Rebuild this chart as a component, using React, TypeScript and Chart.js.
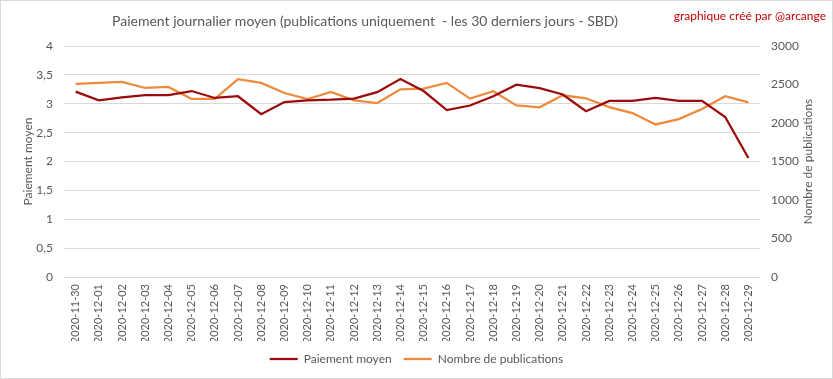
import React, { useEffect, useRef } from "react";
import { Chart, registerables } from "chart.js";

Chart.register(...registerables);

const dates = [
  "2020-11-30", "2020-12-01", "2020-12-02", "2020-12-03", "2020-12-04", "2020-12-05",
  "2020-12-06", "2020-12-07", "2020-12-08", "2020-12-09", "2020-12-10", "2020-12-11",
  "2020-12-12", "2020-12-13", "2020-12-14", "2020-12-15", "2020-12-16", "2020-12-17",
  "2020-12-18", "2020-12-19", "2020-12-20", "2020-12-21", "2020-12-22", "2020-12-23",
  "2020-12-24", "2020-12-25", "2020-12-26", "2020-12-27", "2020-12-28", "2020-12-29",
];

const paiementMoyen = [
  3.21, 3.06, 3.11, 3.15, 3.15, 3.22, 3.1, 3.13, 2.82, 3.03, 3.06, 3.07, 3.09, 3.2, 3.43,
  3.22, 2.89, 2.97, 3.13, 3.33, 3.27, 3.16, 2.87, 3.05, 3.05, 3.1, 3.05, 3.05, 2.77, 2.06,
];

const nombrePublications = [
  2507, 2521, 2534, 2455, 2468, 2312, 2312, 2569, 2521, 2390, 2312, 2403, 2295, 2259, 2438,
  2447, 2521, 2317, 2412, 2229, 2203, 2360, 2321, 2207, 2129, 1981, 2050, 2181, 2347, 2268,
];

const titleText = "Paiement journalier moyen (publications uniquement  - les 30 derniers jours - SBD)";
const creditText = "graphique créé par @arcange";
const leftAxisTitle = "Paiement moyen";
const rightAxisTitle = "Nombre de publications";
const seriesNames = ["Paiement moyen", "Nombre de publications"];

const FONT = "Lato, 'Open Sans', sans-serif";
const GREY = "#595959";

const decorPlugin = {
  id: "decor",
  beforeDraw(chart: any) {
    const { ctx, width, height } = chart;
    ctx.save();
    ctx.fillStyle = "#ffffff";
    ctx.fillRect(0, 0, width, height);
    ctx.strokeStyle = "#d9d9d9";
    ctx.lineWidth = 1;
    ctx.strokeRect(0.5, 0.5, width - 1, height - 1);
    ctx.restore();
  },
  afterDraw(chart: any) {
    const { ctx, width, chartArea } = chart;
    ctx.save();
    ctx.textBaseline = "middle";
    ctx.textAlign = "center";
    ctx.fillStyle = GREY;
    ctx.font = `14px ${FONT}`;
    ctx.fillText(titleText, 365, 21);

    ctx.fillStyle = "#c00000";
    ctx.font = `12px ${FONT}`;
    ctx.textAlign = "right";
    ctx.fillText(creditText, width - 7, 16);

    const cy = (chartArea.top + chartArea.bottom) / 2;
    ctx.fillStyle = GREY;
    ctx.font = `12px ${FONT}`;
    ctx.textAlign = "center";
    ctx.save();
    ctx.translate(28, cy);
    ctx.rotate(-Math.PI / 2);
    ctx.fillText(leftAxisTitle, 0, 0);
    ctx.restore();
    ctx.save();
    ctx.translate(width - 25, cy);
    ctx.rotate(-Math.PI / 2);
    ctx.fillText(rightAxisTitle, 0, 0);
    ctx.restore();
    ctx.restore();
  },
};

export default function App() {
  const ref = useRef<HTMLCanvasElement>(null);

  useEffect(() => {
    document.body.style.margin = "0";
    const canvas = ref.current;
    if (!canvas) return;
    const chart = new Chart(canvas, {
      type: "line",
      data: {
        labels: dates,
        datasets: [
          {
            label: seriesNames[0],
            data: paiementMoyen,
            yAxisID: "y",
            borderColor: "#9b0b0b",
            backgroundColor: "#9b0b0b",
            borderWidth: 2.25,
            pointRadius: 0,
            pointStyle: "line",
            tension: 0,
          },
          {
            label: seriesNames[1],
            data: nombrePublications,
            yAxisID: "y1",
            borderColor: "#ee8a3c",
            backgroundColor: "#ee8a3c",
            borderWidth: 2.25,
            pointRadius: 0,
            pointStyle: "line",
            tension: 0,
          },
        ],
      },
      options: {
        responsive: false,
        animation: false,
        layout: { padding: { top: 46, left: 0, right: 0, bottom: 4 } },
        plugins: {
          title: { display: false },
          tooltip: { enabled: false },
          legend: {
            position: "bottom",
            labels: {
              usePointStyle: true,
              pointStyleWidth: 28,
              color: GREY,
              font: { family: FONT, size: 12 },
              padding: 12,
            },
          },
        },
        scales: {
          x: {
            offset: true,
            grid: { display: false, drawTicks: false },
            border: { display: false },
            ticks: {
              color: GREY,
              font: { family: FONT, size: 11 },
              minRotation: 90,
              maxRotation: 90,
              autoSkip: false,
              padding: 7,
            },
            afterFit(scale: any) {
              scale.height = 64;
            },
          },
          y: {
            position: "left",
            min: 0,
            max: 4,
            grid: { color: "#d9d9d9", drawTicks: false },
            border: { display: false },
            ticks: {
              stepSize: 0.5,
              color: GREY,
              font: { family: FONT, size: 12 },
              padding: 11,
              callback: (v: any) => String(v).replace(".", ","),
            },
            afterFit(scale: any) {
              scale.width = 64;
            },
          },
          y1: {
            position: "right",
            min: 0,
            max: 3000,
            grid: { display: false, drawTicks: false },
            border: { display: false },
            ticks: {
              stepSize: 500,
              color: GREY,
              font: { family: FONT, size: 12 },
              padding: 11,
              callback: (v: any) => String(v),
            },
            afterFit(scale: any) {
              scale.width = 73;
            },
          },
        },
      },
      plugins: [decorPlugin],
    });
    return () => chart.destroy();
  }, []);

  return (
    <div style={{ width: 833, height: 379 }}>
      <canvas ref={ref} width={833} height={379} style={{ display: "block" }} />
    </div>
  );
}
